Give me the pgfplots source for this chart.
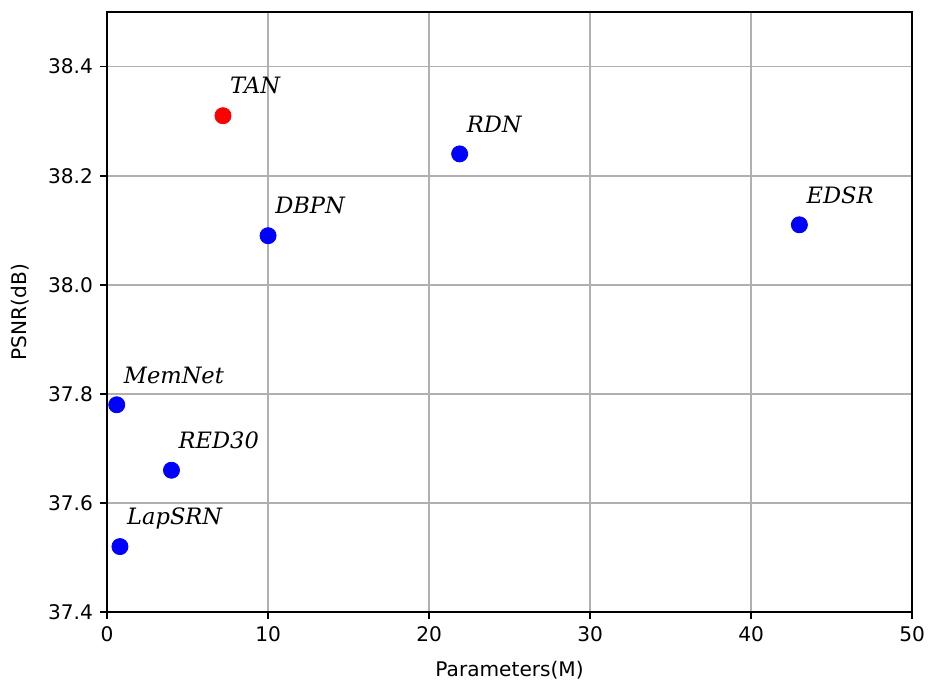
\documentclass[border=0pt]{standalone}
\usepackage{fontspec}
\setmainfont{DejaVu Sans}
\newfontfamily\lab{DejaVu Serif}
\usepackage{pgfplots}
\usepackage{pgfplotstable}
\pgfplotsset{compat=1.18}
\pgfplotstableread{
x y name
0.6 37.78 MemNet
4.0 37.66 RED30
0.8 37.52 LapSRN
10.0 38.09 DBPN
21.9 38.24 RDN
43.0 38.11 EDSR
}\others
\pgfplotstableread{
x y name
7.2 38.31 TAN
}\tan
\begin{document}
\begin{tikzpicture}
\path[use as bounding box] (-53.2pt,-34.3pt) rectangle (407.9pt,304.1pt);
\begin{axis}[
  at={(0pt,0pt)}, anchor=origin,
  scale only axis, width=400pt, height=298.1pt,
  xmin=0, xmax=50, ymin=37.4, ymax=38.5,
  xtick={0,10,20,30,40,50},
  ytick={37.4,37.6,37.8,38.0,38.2,38.4},
  yticklabel style={/pgf/number format/fixed, /pgf/number format/fixed zerofill, /pgf/number format/precision=1},
  /pgf/number format/assume math mode=true,
  ticklabel style={font=\fontsize{10}{12}\selectfont},
  label style={font=\fontsize{10}{12}\selectfont},
  tick align=outside, tick pos=left, major tick length=3.5pt,
  every tick/.style={black, line width=0.8pt},
  axis line style={line width=0.8pt},
  grid=major, grid style={color=black!31, line width=0.8pt},
  xlabel={Parameters(M)}, ylabel={PSNR(dB)},
  xlabel style={at={([yshift=-29pt]axis description cs:0.5,0)}, anchor=center},
  ylabel style={at={([xshift=-43pt]axis description cs:0,0.5)}, anchor=center},
  nodes near coords, point meta=explicit symbolic,
  nodes near coords style={font=\lab\itshape\fontsize{11.2}{14}\selectfont, anchor=base west, inner sep=0pt, xshift=3.4pt, yshift=10.8pt, text=black},
  clip=false,
]
\addplot[only marks, mark=*, mark size=4pt, color=blue] table[x=x, y=y, meta=name] {\others};
\addplot[only marks, mark=*, mark size=4pt, color=red] table[x=x, y=y, meta=name] {\tan};
\end{axis}
\end{tikzpicture}
\end{document}
